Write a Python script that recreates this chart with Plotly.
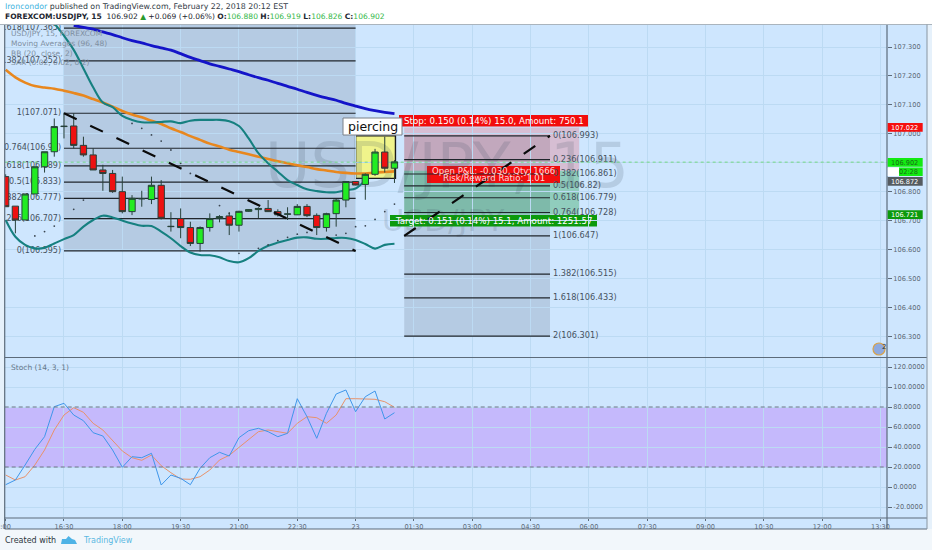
import plotly.graph_objects as go

W, H = 932, 550
FONT = "DejaVu Sans"

# ---- candles (bar index 0 = 16:30, one bar = 15 minutes)
bars = list(range(-6, 35))
opens = [106.852, 106.750, 106.702, 106.792, 106.886, 106.938, 107.025, 107.027, 106.960, 106.927, 106.875, 106.863,
         106.800, 106.731, 106.775, 106.773, 106.822, 106.679, 106.707, 106.676, 106.621, 106.676, 106.707, 106.716,
         106.684, 106.732, 106.738, 106.742, 106.731, 106.722, 106.720, 106.749, 106.718, 106.676, 106.724, 106.771,
         106.835, 106.825, 106.860, 106.937, 106.881]
highs = [106.860, 106.750, 106.792, 106.886, 106.938, 107.053, 107.073, 107.071, 106.990, 106.950, 106.893, 106.875,
         106.852, 106.788, 106.803, 106.852, 106.840, 106.729, 106.742, 106.696, 106.680, 106.725, 106.719, 106.729,
         106.734, 106.739, 106.746, 106.771, 106.739, 106.746, 106.757, 106.757, 106.725, 106.727, 106.775, 106.837,
         106.837, 106.863, 106.948, 106.990, 106.909]
lows = [106.748, 106.656, 106.702, 106.792, 106.866, 106.921, 106.984, 106.950, 106.921, 106.875, 106.803, 106.796,
        106.725, 106.719, 106.748, 106.757, 106.704, 106.662, 106.639, 106.612, 106.593, 106.662, 106.694, 106.650,
        106.662, 106.730, 106.709, 106.730, 106.714, 106.702, 106.719, 106.712, 106.650, 106.662, 106.679, 106.746,
        106.822, 106.772, 106.855, 106.866, 106.830]
closes = [106.748, 106.702, 106.792, 106.886, 106.938, 107.025, 107.026, 106.960, 106.927, 106.875, 106.863, 106.800,
          106.731, 106.777, 106.776, 106.822, 106.708, 106.680, 106.676, 106.621, 106.676, 106.707, 106.714, 106.684,
          106.732, 106.738, 106.742, 106.731, 106.720, 106.723, 106.749, 106.717, 106.676, 106.724, 106.771, 106.835,
          106.823, 106.860, 106.937, 106.881, 106.903]

# ---- moving averages and Bollinger bands
ma96_x = list(range(1, 35))
ma96 = [107.375, 107.368, 107.362, 107.352, 107.343, 107.332, 107.322, 107.314, 107.305, 107.297, 107.289, 107.277,
        107.264, 107.253, 107.242, 107.233, 107.224, 107.215, 107.204, 107.194, 107.185, 107.174, 107.164, 107.154,
        107.143, 107.133, 107.124, 107.116, 107.105, 107.096, 107.087, 107.080, 107.074, 107.070]
ma48 = [107.221, 107.195, 107.177, 107.165, 107.160, 107.156, 107.149, 107.141, 107.132, 107.120, 107.108, 107.094,
        107.079, 107.067, 107.057, 107.045, 107.034, 107.019, 107.006, 106.992, 106.979, 106.966, 106.956, 106.945,
        106.937, 106.929, 106.921, 106.913, 106.905, 106.898, 106.891, 106.885, 106.878, 106.873, 106.868, 106.865,
        106.863, 106.863, 106.866, 106.868, 106.870]
bb_up_x = list(range(-1, 32))
bb_up = [107.382, 107.339, 107.290, 107.226, 107.161, 107.108, 107.092, 107.062, 107.048, 107.040, 107.039, 107.041,
         107.043, 107.037, 107.045, 107.048, 107.048, 107.048, 107.043, 107.027, 106.984, 106.933, 106.898, 106.869,
         106.840, 106.823, 106.808, 106.802, 106.798, 106.798, 106.805, 106.811, 106.840]
bb_low = [106.702, 106.644, 106.616, 106.604, 106.606, 106.621, 106.636, 106.650, 106.679, 106.702, 106.717, 106.711,
          106.700, 106.690, 106.682, 106.681, 106.662, 106.639, 106.612, 106.590, 106.581, 106.580, 106.573, 106.560,
          106.556, 106.570, 106.595, 106.613, 106.624, 106.633, 106.641, 106.642, 106.637, 106.637, 106.640, 106.640,
          106.633, 106.619, 106.603, 106.616, 106.620]
sar_x = [-3, -2, -1, 1, 2, 7, 8, 9, 10, 11, 12, 13, 16, 17, 18, 20, 21, 22, 23, 24, 25, 28, 29, 30, 31, 32, 33, 34]
sar = [106.647, 106.662, 106.681, 106.739, 106.771, 107.036, 107.019, 106.996, 106.975, 106.944, 106.898, 106.863,
       106.752, 106.725, 106.587, 106.604, 106.616, 106.631, 106.642, 106.653, 106.659, 106.650, 106.656, 106.679,
       106.682, 106.704, 106.731, 106.757]

# ---- stochastic
stoch_k = [2.3, 7, 22, 37.7, 50.3, 80.3, 83.7, 72, 66.3, 54.3, 51, 37, 19.7, 30.3, 29.3, 33.7, 2, 12, 8.7, 2.3, 18.7,
           29.3, 34.7, 31, 49.3, 56.3, 58.7, 55.3, 50.3, 53.7, 88.3, 70.3, 48.7, 73.7, 93, 97, 75.3, 90.3, 96, 68, 74.3]
stoch_d = [12, 7, 10.3, 22, 37, 57, 72, 79.3, 74.7, 63.7, 57, 47, 36, 29.3, 26.7, 32, 21.3, 14.3, 8, 7.7, 10.3, 17,
           27, 31.7, 39.3, 47, 55.3, 57, 55, 53.7, 63.7, 70.3, 69.3, 63.7, 72, 88.3, 88.3, 88, 87.7, 85.3, 79.7]

# ---- fibonacci tools
fib_l_levels = ["0", "0.236", "0.382", "0.5", "0.618", "0.764", "1", "1.382", "1.618"]
fib_l_prices = [106.595, 106.707, 106.777, 106.833, 106.889, 106.95, 107.071, 107.252, 107.365]
fib_l_span = [0, 30]
fib_r_levels = ["0", "0.236", "0.382", "0.5", "0.618", "0.764", "1", "1.382", "1.618", "2"]
fib_r_prices = [106.993, 106.911, 106.861, 106.82, 106.779, 106.728, 106.647, 106.515, 106.433, 106.301]
fib_r_span = [35, 50]
trend_l_x, trend_l_y = [0, 30], [107.071, 106.595]
trend_r_x, trend_r_y = [35, 50], [106.647, 106.993]

# ---- position tool
pos_span = [35, 53]
stop_price, entry_price, target_price = 107.022, 106.872, 106.721
last_price = 106.902
pattern_span, pattern_prices = [30, 34.1], [106.846, 106.993]

# ---- ticks
x_ticks = list(range(-6, 85, 6))
x_labels = [":00", "16:30", "18:00", "19:30", "21:00", "22:30", "23", "01:30", "03:00", "04:30", "06:00", "07:30",
            "09:00", "10:30", "12:00", "13:30"]
y_ticks = [106.3, 106.4, 106.5, 106.6, 106.7, 106.8, 106.9, 107.0, 107.1, 107.2, 107.3]
y_labels = ["106.300", "106.400", "106.500", "106.600", "106.700", "106.800", "", "107.000", "107.100", "107.200",
            "107.300"]
s_ticks = [-20, 0, 20, 40, 60, 80, 100, 120]
s_labels = ["-20.0000", "0.0000", "20.0000", "40.0000", "60.0000", "80.0000", "100.0000", "120.0000"]

BG = "#cee6fe"
GRID = "#bcdaf3"
AXIS = "#5c6b7a"
FRAME_L, FRAME_R = 4.7, 887
P1_T, P1_B, P2_T, P2_B, AX_B = 24.5, 357, 358, 518, 529


def px(x):
    return x / W


def py(y):
    return 1 - y / H


fig = go.Figure()

# watermark and fib labels sit under the marks
fig.add_trace(go.Scatter(x=[39.4], y=[106.868], text=["USD/JPY, 15"], mode="text", xaxis="x2", yaxis="y",
                         textfont=dict(size=62, family=FONT, color="rgba(60,75,95,0.17)"), hoverinfo="skip"))
fig.add_trace(go.Scatter(x=[39.0], y=[106.692], text=["USD/JPY"], mode="text", xaxis="x2", yaxis="y",
                         textfont=dict(size=31, family=FONT, color="rgba(60,75,95,0.17)"), hoverinfo="skip"))

for p in fib_l_prices:
    fig.add_trace(go.Scatter(x=fib_l_span, y=[p, p], mode="lines", line=dict(color="#20262c", width=1.2),
                             xaxis="x2", yaxis="y", hoverinfo="skip"))
for p in fib_r_prices:
    fig.add_trace(go.Scatter(x=fib_r_span, y=[p, p], mode="lines", line=dict(color="#20262c", width=1.2),
                             xaxis="x2", yaxis="y", hoverinfo="skip"))
fig.add_trace(go.Scatter(x=[-0.3] * len(fib_l_prices), y=fib_l_prices, mode="text", textposition="middle left",
                         text=[f"{a}({b:g})" for a, b in zip(fib_l_levels, fib_l_prices)], cliponaxis=True,
                         textfont=dict(size=8, family=FONT, color="#46525e"), xaxis="x2", yaxis="y", hoverinfo="skip"))
fig.add_trace(go.Scatter(x=[50.3] * len(fib_r_prices), y=fib_r_prices, mode="text", textposition="middle right",
                         text=[f"{a}({b:g})" for a, b in zip(fib_r_levels, fib_r_prices)],
                         textfont=dict(size=8.2, family=FONT, color="#46525e"), xaxis="x2", yaxis="y",
                         hoverinfo="skip"))

fig.add_trace(go.Scatter(x=bars, y=ma48, mode="lines", line=dict(color="#e8871e", width=2.6, shape="spline"),
                         xaxis="x2", yaxis="y", hoverinfo="skip"))
fig.add_trace(go.Scatter(x=ma96_x, y=ma96, mode="lines", line=dict(color="#1414c8", width=2.8, shape="spline"),
                         xaxis="x2", yaxis="y", hoverinfo="skip"))
fig.add_trace(go.Scatter(x=bb_up_x, y=bb_up, mode="lines", line=dict(color="#168080", width=2.1, shape="spline"),
                         xaxis="x2", yaxis="y", hoverinfo="skip"))
fig.add_trace(go.Scatter(x=bars, y=bb_low, mode="lines", line=dict(color="#168080", width=2.1, shape="spline"),
                         xaxis="x2", yaxis="y", hoverinfo="skip"))
fig.add_trace(go.Scatter(x=sar_x, y=sar, mode="markers", marker=dict(color="#3a4550", size=1.8),
                         xaxis="x2", yaxis="y", hoverinfo="skip"))
fig.add_trace(go.Scatter(x=[-6.1, 84.7], y=[last_price, last_price], mode="lines",
                         line=dict(color="#74d884", width=1, dash="dot"), xaxis="x2", yaxis="y", hoverinfo="skip"))

fig.add_trace(go.Candlestick(x=bars, open=opens, high=highs, low=lows, close=closes, xaxis="x2", yaxis="y",
                             increasing=dict(fillcolor="#22ec22", line=dict(color="#27403a", width=1)),
                             decreasing=dict(fillcolor="#ee1111", line=dict(color="#27403a", width=1)),
                             whiskerwidth=0, zorder=1, hoverinfo="skip"))

for tx, ty in ((trend_l_x, trend_l_y), (trend_r_x, trend_r_y)):
    fig.add_trace(go.Scatter(x=tx, y=ty, mode="lines", line=dict(color="#0b0b0b", width=2.2, dash="14px,15px"),
                             xaxis="x2", yaxis="y", zorder=2, hoverinfo="skip"))

# stochastic
fig.add_trace(go.Scatter(x=bars, y=stoch_d, mode="lines", line=dict(color="#e8926a", width=1),
                         xaxis="x", yaxis="y2", hoverinfo="skip"))
fig.add_trace(go.Scatter(x=bars, y=stoch_k, mode="lines", line=dict(color="#3f96ea", width=1),
                         xaxis="x", yaxis="y2", hoverinfo="skip"))

shapes = []


def rect_px(x0, y0, x1, y1, fill, line=None, layer="below", lw=1):
    shapes.append(dict(type="rect", xref="paper", yref="paper", x0=px(x0), x1=px(x1), y0=py(y0), y1=py(y1),
                       fillcolor=fill, line=dict(color=line, width=lw) if line else dict(width=0), layer=layer))


def line_px(x0, y0, x1, y1, color=AXIS, lw=1.2, layer="above"):
    shapes.append(dict(type="line", xref="paper", yref="paper", x0=px(x0), x1=px(x1), y0=py(y0), y1=py(y1),
                       line=dict(color=color, width=lw), layer=layer))


def rect_data(xs, ys, fill, line=None, lw=1):
    shapes.append(dict(type="rect", xref="x2", yref="y", x0=xs[0], x1=xs[1], y0=ys[0], y1=ys[1], fillcolor=fill,
                       line=dict(color=line, width=lw) if line else dict(width=0), layer="below"))


def label_box(x0, y0, x1, y1, fill):
    # label background placed on the price chart so that it stacks above the zones
    rect_data([(x0 - 64) / 9.72, (x1 - 64) / 9.72],
              [107.3 - (y0 - 47) / 289.3, 107.3 - (y1 - 47) / 289.3], fill)


rect_px(0, 0, W, P1_T, "#ffffff")
rect_px(0, P1_T, W, AX_B, "#e6f1fb")
rect_px(FRAME_L, P1_T, 927, AX_B, BG)
rect_px(0, AX_B, W, H, "#f2f7fb")

rect_data(fib_l_span, [fib_l_prices[0], 107.378], "rgba(70,85,105,0.18)")
rect_data(fib_r_span, [fib_r_prices[-1], fib_r_prices[0]], "rgba(70,85,105,0.18)")
rect_data(pos_span, [entry_price, stop_price], "rgba(250,30,40,0.20)")
rect_data(pos_span, [target_price, entry_price], "rgba(0,150,40,0.30)")
rect_data(pattern_span, pattern_prices, "rgba(255,250,90,0.70)", line="#1c1c1c", lw=1.4)
label_box(399, 115, 588, 126.5, "#f20d0d")
label_box(427, 166, 560, 183, "#f20d0d")
label_box(390, 215, 597, 226.5, "#0c9a0c")

# stochastic band
shapes.append(dict(type="rect", xref="x", yref="y2", x0=-6.1, x1=84.7, y0=20, y1=80,
                   fillcolor="rgba(180,100,250,0.35)", line=dict(width=0), layer="below"))
for lv in (20, 80):
    shapes.append(dict(type="line", xref="x", yref="y2", x0=-6.1, x1=84.7, y0=lv, y1=lv,
                       line=dict(color="#6f7487", width=1, dash="4px,3px"), layer="above"))

# frame
line_px(FRAME_L, P1_T, FRAME_L, AX_B)
line_px(FRAME_R, P1_T, FRAME_R, AX_B)
line_px(FRAME_L, P1_B + 0.5, 927, P1_B + 0.5)
line_px(FRAME_L, P2_B, 927, P2_B)
line_px(FRAME_L, AX_B, 927, AX_B, lw=1)
line_px(0, P1_T, W, P1_T, color="#aab4bd", lw=1)
line_px(927, P1_T, 927, AX_B, color="#8896a2", lw=1)

ann = []


def txt(x, y, s, size=8, color="#44525e", anchor="left", **kw):
    ann.append(dict(xref="paper", yref="paper", x=px(x), y=py(y), text=s, showarrow=False, xanchor=anchor,
                    yanchor="middle", font=dict(family=FONT, size=size, color=color), **kw))


# header
G = "#34b84a"
txt(2.5, 6.5, "<span style='color:#45b5e0'>Ironcondor</span> published on TradingView.com, February 22, 2018 20:12 EST",
    size=7.85, color="#333d47")
txt(2.5, 17, f"<b>FOREXCOM:USDJPY,</b> <b>15</b>  106.902 <span style='color:#2c9a2c'>▲</span> +0.069 (+0.06%) "
    f"<b>O:</b><span style='color:{G}'>106.880</span> <b>H:</b><span style='color:{G}'>106.919</span> "
    f"<b>L:</b><span style='color:{G}'>106.826</span> <b>C:</b><span style='color:{G}'>106.902</span>",
    size=7.55, color="#1d2630")

# indicator legend
for ly, s in ((34, "USD/JPY, 15, FOREXCOM"), (44, "Moving Averages (96, 48)"), (54, "BB (20, close, 2)"),
              (63, "SAR (0.02, 0.02, 0.2)")):
    txt(9, ly, s, size=7.5, color="#7f90a2")
txt(9, 367.5, "Stoch (14, 3, 1)", size=7.5, color="#66788a")

# footer
txt(2.5, 540, "Created with", size=8, color="#2c3640")
txt(80.5, 540, "TradingView", size=8, color="#5ab7e2")
logo = "M {} {} L {} {} L {} {} L {} {} L {} {} L {} {} L {} {} L {} {} Z".format(
    px(61), py(544), px(62), py(539), px(66), py(539), px(68.5), py(536), px(72), py(539), px(75), py(540),
    px(77), py(544), px(61), py(544))
shapes.append(dict(type="path", xref="paper", yref="paper", path=logo, fillcolor="#4eb3e6", line=dict(width=0)))

# position labels
txt(493.5, 120.8, "Stop: 0.150 (0.14%) 15.0, Amount: 750.1", size=8.7, color="#ffffff", anchor="center")
txt(493.5, 171, "Open P&amp;L: -0.030, Qty: 1666", size=8.6, color="#ffd8d8", anchor="center")
txt(493.5, 177.8, "Risk/Reward Ratio: 1.01", size=8.6, color="#ffd8d8", anchor="center")
txt(493.5, 220.8, "Target: 0.151 (0.14%) 15.1, Amount: 1251.57", size=8.65, color="#ffffff", anchor="center")
rect_px(343, 118, 402, 135, "#ffffff", line="#7a8088", layer="above", lw=1)
txt(372.5, 126.5, "piercing", size=12.5, color="#111111", anchor="center")

# price tags on the axis
for y0, y1, x0, fill, s, col in ((123, 131.7, 887.7, "#f50f0f", "107.022", "#ffffff"),
                                 (158, 166.7, 887.7, "#12ea12", "106.902", "#1a6b1a"),
                                 (167.5, 176, 899, "#12ea12", "02:28", "#1a6b1a"),
                                 (177, 185.7, 887.7, "#555b60", "106.872", "#ffffff"),
                                 (210.3, 219, 887.7, "#0c9a0c", "106.721", "#ffffff")):
    rect_px(x0, y0, 922.7, y1, fill, layer="above")
    txt(920.3, (y0 + y1) / 2 + 0.2, s, size=6.6, color=col, anchor="right")
rect_px(887.7, 167.5, 899, 176, "#ffffff", layer="above")

# flag icon
shapes.append(dict(type="circle", xref="paper", yref="paper", x0=px(873), x1=px(885), y0=py(355), y1=py(343),
                   fillcolor="#8faadf", line=dict(color="#d8a24a", width=1.2)))
txt(883.5, 346.5, "2", size=7, color="#2c3640", anchor="center")

axis_font = dict(family=FONT, size=6.6, color="#5b6875")
fig.update_layout(
    width=W, height=H, margin=dict(l=0, r=0, t=0, b=0), autosize=False, showlegend=False,
    paper_bgcolor="#ffffff", plot_bgcolor=BG, boxgap=0.3, boxgroupgap=0.07, shapes=shapes, annotations=ann,
    xaxis=dict(domain=[px(FRAME_L), px(FRAME_R)], range=[-6.1, 84.67], anchor="y2", tickvals=x_ticks,
               ticktext=x_labels, tickfont=axis_font, ticks="outside", ticklen=2, tickcolor=AXIS, showgrid=True,
               gridcolor=GRID, gridwidth=1, zeroline=False, showline=False, rangeslider=dict(visible=False),
               automargin=False),
    xaxis2=dict(domain=[px(FRAME_L), px(FRAME_R)], range=[-6.1, 84.67], anchor="y", tickvals=x_ticks,
                showticklabels=False, ticks="", showgrid=True, gridcolor=GRID, gridwidth=1, zeroline=False,
                rangeslider=dict(visible=False), automargin=False),
    yaxis=dict(domain=[py(P1_B), py(P1_T)], range=[106.2285, 107.3778], anchor="x2", side="right", tickvals=y_ticks,
               ticktext=y_labels, tickfont=axis_font, ticks="outside", ticklen=4, tickcolor=AXIS, showgrid=True,
               gridcolor=GRID, gridwidth=1, zeroline=False, automargin=False),
    yaxis2=dict(domain=[py(P2_B), py(P2_T)], range=[-31, 129], anchor="x", side="right", tickvals=s_ticks,
                ticktext=s_labels, tickfont=axis_font, ticks="outside", ticklen=4, tickcolor=AXIS, showgrid=True,
                gridcolor=GRID, gridwidth=1, zeroline=False, automargin=False),
)

fig.write_html("out.html", config={"displayModeBar": False},
               post_script="document.body.style.margin='0';document.body.style.overflow='hidden';")
